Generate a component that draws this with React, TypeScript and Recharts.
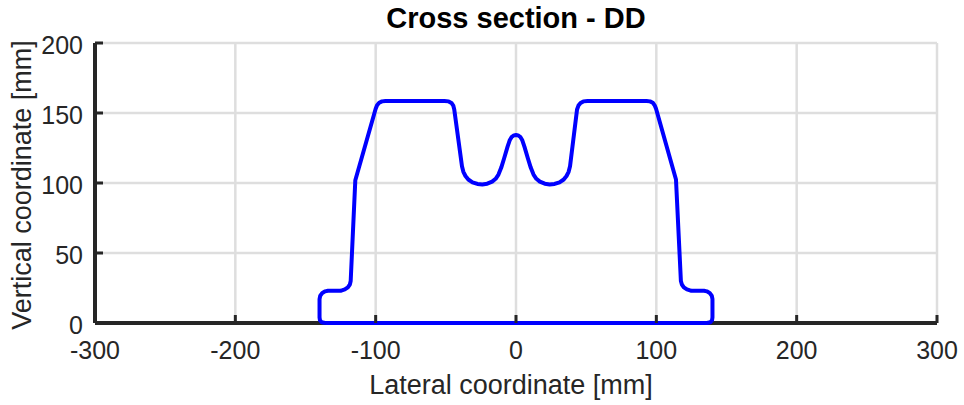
import { LineChart, Line, XAxis, YAxis, CartesianGrid } from 'recharts'

// profile outline, traced clockwise from the bottom-left corner
const lateral = [
  -136, -138.5, -139.7, -140, -140, -139.5, -138, -136, -134, -125,
  -122, -119.8, -118.4, -117.8, -114.5, -100, -99, -97.5, -95.5, -93,
  -51, -48, -46, -44.7, -44, -38.5, -37.5, -36, -34, -31,
  -27.5, -24, -20.5, -17, -14.5, -12.5, -10.5, -8.5, -6, -4.5,
  -3, -1.5, 0, 1.5, 3, 4.5, 6, 8.5, 10.5, 12.5,
  14.5, 17, 20.5, 24, 27.5, 31, 34, 36, 37.5, 38.5,
  43.5, 44.5, 46, 48, 51, 93, 95.5, 97.5, 98.8, 99.8,
  114, 117.5, 118.2, 119.6, 121.8, 125, 134, 136, 138, 139.5,
  140, 140, 139.7, 138.5, 136, -136,
]
const vertical = [
  0, 0.5, 2, 4, 17, 19.5, 21.5, 22.6, 23, 23,
  24, 25.5, 27.5, 30, 102, 153, 155.5, 157.3, 158.3, 158.6,
  158.6, 158.3, 157.2, 155.3, 152.5, 112, 108, 105, 102.5, 100.5,
  99.3, 99, 99.5, 101, 103, 106, 111, 117.5, 126, 130.5,
  133, 134, 134.3, 134, 133, 130.5, 126, 117.5, 111, 106,
  103, 101, 99.5, 99, 99.3, 100.5, 102.5, 105, 108, 112,
  152.5, 155.3, 157.2, 158.3, 158.6, 158.6, 158.3, 157.3, 155.5, 153,
  102.5, 30, 27.5, 25.5, 24, 23, 23, 22.6, 21.5, 19.5,
  17, 4, 2, 0.5, 0, 0,
]

const xTicks = [-300, -200, -100, 0, 100, 200, 300]
const yTicks = [0, 50, 100, 150, 200]

const data = lateral.map((x, i) => ({ x, y: vertical[i] }))

const FONT = '"Liberation Sans", Arial, Helvetica, sans-serif'
const INK = '#262626'
const TICK = 8 // tick offset recharts applies (tickSize + tickMargin)
const LEN = 8 // inward tick length

const BottomTick = (p: any) => {
  const y0 = p.y - TICK
  return (
    <g>
      <line x1={p.x} x2={p.x} y1={y0} y2={y0 - LEN} stroke={INK} strokeWidth={3} />
      <text x={p.x} y={y0 + 35.5} textAnchor="middle" fill={INK} fontSize={25} fontFamily={FONT}>
        {p.payload.value}
      </text>
    </g>
  )
}

const LeftTick = (p: any) => {
  const x0 = p.x + TICK
  return (
    <g>
      <line x1={x0} x2={x0 + LEN} y1={p.y} y2={p.y} stroke={INK} strokeWidth={3} />
      <text x={x0 - 12} y={p.y + 11} textAnchor="end" fill={INK} fontSize={25} fontFamily={FONT}>
        {p.payload.value}
      </text>
    </g>
  )
}

const TopTick = (p: any) => {
  const y0 = p.y + TICK
  return <line x1={p.x} x2={p.x} y1={y0} y2={y0 + LEN} stroke={INK} strokeWidth={3} />
}

const RightTick = (p: any) => {
  const x0 = p.x - TICK
  return <line x1={x0} x2={x0 - LEN} y1={p.y} y2={p.y} stroke={INK} strokeWidth={3} />
}

const XLabel = ({ viewBox }: any) => (
  <text x={viewBox.x + viewBox.width / 2 - 5} y={viewBox.y + 70.5} textAnchor="middle" fill={INK} fontSize={27} fontFamily={FONT}>
    Lateral coordinate [mm]
  </text>
)

const YLabel = ({ viewBox }: any) => {
  const cx = 31
  const cy = viewBox.y + viewBox.height / 2 + 2
  return (
    <text x={cx} y={cy} transform={`rotate(-90, ${cx}, ${cy})`} textAnchor="middle" fill={INK} fontSize={27} fontFamily={FONT}>
      Vertical coordinate [mm]
    </text>
  )
}

export default function App() {
  return (
    <div style={{ position: 'absolute', left: 0, top: 0, width: 964, height: 405, background: '#fff' }}>
      <div
        style={{
          position: 'absolute', left: 95, width: 842, top: 4, lineHeight: '29px',
          textAlign: 'center', fontFamily: FONT, fontWeight: 'bold', fontSize: 29, color: '#000',
        }}
      >
        Cross section - DD
      </div>
      <LineChart width={964} height={405} data={data} margin={{ top: 43, right: 27, left: 20, bottom: 21 }}>
        <CartesianGrid stroke="#dedede" strokeWidth={2.5} />
        <XAxis
          dataKey="x" type="number" domain={[-300, 300]} ticks={xTicks} height={61}
          axisLine={{ stroke: INK, strokeWidth: 4 }} tickLine={false} tickSize={8} tickMargin={0}
          tick={<BottomTick />} label={<XLabel />} interval={0}
        />
        <XAxis
          xAxisId="top" orientation="top" dataKey="x" type="number" domain={[-300, 300]} ticks={xTicks} height={0}
          axisLine={{ stroke: INK, strokeWidth: 4 }} tickLine={false} tickSize={8} tickMargin={0}
          tick={<TopTick />} interval={0}
        />
        <YAxis
          type="number" domain={[0, 200]} ticks={yTicks} width={75}
          axisLine={{ stroke: INK, strokeWidth: 4 }} tickLine={false} tickSize={8} tickMargin={0}
          tick={<LeftTick />} label={<YLabel />} interval={0}
        />
        <YAxis
          yAxisId="right" orientation="right" type="number" domain={[0, 200]} ticks={yTicks} width={0}
          axisLine={{ stroke: INK, strokeWidth: 4 }} tickLine={false} tickSize={8} tickMargin={0}
          tick={<RightTick />} interval={0}
        />
        <Line
          dataKey="y" type="linear" stroke="#0000ff" strokeWidth={4} dot={false}
          isAnimationActive={false} strokeLinejoin="round" zIndex={600}
        />
      </LineChart>
    </div>
  )
}
